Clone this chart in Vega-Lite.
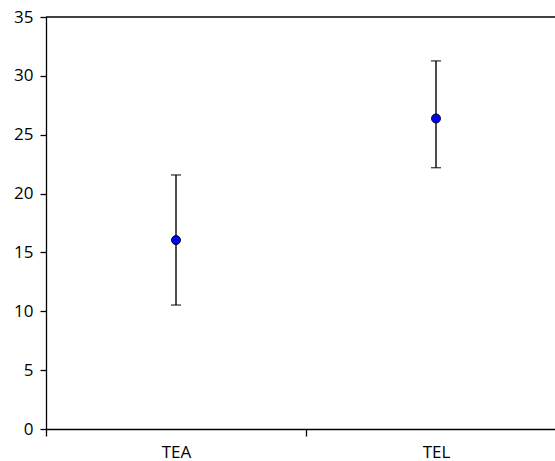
{
  "$schema": "https://vega.github.io/schema/vega-lite/v6.json",
  "autosize": "none",
  "padding": {"left": 46, "top": 17, "right": 0, "bottom": 32},
  "width": 509,
  "height": 412,
  "background": "white",
  "config": {
    "view": {"stroke": null},
    "axis": {
      "domainColor": "#000000",
      "domainWidth": 1.3,
      "tickColor": "#000000",
      "tickWidth": 1.3,
      "labelColor": "#000000",
      "labelFont": "Open Sans",
      "labelFontSize": 17,
      "grid": false,
      "title": null
    }
  },
  "data": {
    "values": [
      {"group": "TEA", "mean": 16.05, "low": 10.53, "high": 21.58},
      {"group": "TEL", "mean": 26.38, "low": 22.2, "high": 31.27}
    ]
  },
  "layer": [
    {
      "data": {"values": [{}]},
      "mark": {"type": "rule", "color": "#000000", "strokeWidth": 1.3},
      "encoding": {"y": {"datum": 35, "type": "quantitative", "scale": {"domain": [0, 35]}}}
    },
    {
      "mark": {"type": "rule", "color": "#000000", "strokeWidth": 1.4},
      "encoding": {
        "x": {
          "field": "group",
          "type": "nominal",
          "scale": {"range": [0, 520], "paddingInner": 0, "paddingOuter": 0},
          "axis": {"labelAngle": 0, "tickBand": "extent", "tickSize": 7, "labelPadding": 8}
        },
        "y": {
          "field": "low",
          "type": "quantitative",
          "scale": {"domain": [0, 35], "nice": false},
          "axis": {"values": [0, 5, 10, 15, 20, 25, 30, 35], "tickSize": 6, "labelPadding": 7}
        },
        "y2": {"field": "high"}
      }
    },
    {
      "mark": {"type": "tick", "color": "#000000", "size": 10, "thickness": 1.4, "orient": "horizontal"},
      "encoding": {
        "x": {"field": "group", "type": "nominal"},
        "y": {"field": "low", "type": "quantitative"}
      }
    },
    {
      "mark": {"type": "tick", "color": "#000000", "size": 10, "thickness": 1.4, "orient": "horizontal"},
      "encoding": {
        "x": {"field": "group", "type": "nominal"},
        "y": {"field": "high", "type": "quantitative"}
      }
    },
    {
      "mark": {"type": "point", "shape": "circle", "filled": true, "fill": "#0000FF", "stroke": "#000000", "strokeWidth": 1, "size": 80, "opacity": 1},
      "encoding": {
        "x": {"field": "group", "type": "nominal"},
        "y": {"field": "mean", "type": "quantitative"}
      }
    }
  ]
}
